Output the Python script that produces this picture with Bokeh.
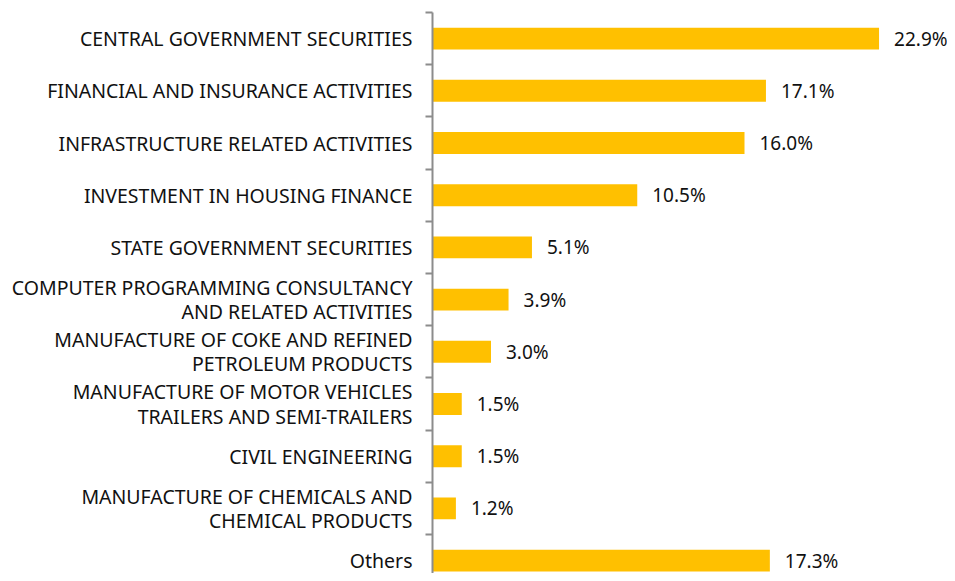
from bokeh.plotting import figure
from bokeh.models import Range1d, FixedTicker, ColumnDataSource
from bokeh.embed import file_html
from bokeh.resources import INLINE
from bokeh.core.properties import value

categories = [
    "CENTRAL GOVERNMENT SECURITIES",
    "FINANCIAL AND INSURANCE ACTIVITIES",
    "INFRASTRUCTURE RELATED ACTIVITIES",
    "INVESTMENT IN HOUSING FINANCE",
    "STATE GOVERNMENT SECURITIES",
    "COMPUTER PROGRAMMING CONSULTANCY\nAND RELATED ACTIVITIES",
    "MANUFACTURE OF COKE AND REFINED\nPETROLEUM PRODUCTS",
    "MANUFACTURE OF MOTOR VEHICLES\nTRAILERS AND SEMI-TRAILERS",
    "CIVIL ENGINEERING",
    "MANUFACTURE OF CHEMICALS AND\nCHEMICAL PRODUCTS",
    "Others",
]
values = [22.9, 17.1, 16.0, 10.5, 5.1, 3.9, 3.0, 1.5, 1.5, 1.2, 17.3]
value_labels = ["22.9%", "17.1%", "16.0%", "10.5%", "5.1%", "3.9%", "3.0%", "1.5%", "1.5%", "1.2%", "17.3%"]

FONT = "Noto Sans"
W, H = 947, 573
LEFT, TOP = 432, 12
PX_PER_PCT = 19.5
ROW = 52.2

pos = list(range(len(categories)))
source = ColumnDataSource(dict(y=pos, v=values, lab=value_labels))

p = figure(
    width=W, height=H, output_backend="svg", toolbar_location=None,
    x_axis_location=None,
    x_range=Range1d(0, (W - LEFT) / PX_PER_PCT),
    y_range=Range1d(-0.5 + (H - TOP) / ROW, -0.5),
    min_border_left=LEFT, min_border_top=TOP, min_border_bottom=0, min_border_right=0,
)
p.outline_line_color = None
p.grid.visible = False

p.hbar(y="y", right="v", left=0, height=0.42, source=source,
       fill_color="#FFC000", line_color=None)

p.text(x="v", y="y", text="lab", source=source, x_offset=15,
       text_baseline="middle", text_align="left",
       text_font=value(FONT), text_font_size="19px", text_color="#111111")

ax = p.yaxis[0]
boundaries = [i - 0.5 for i in range(len(categories) + 1)]
ax.ticker = FixedTicker(ticks=pos, minor_ticks=boundaries)
ax.major_label_overrides = {i: c for i, c in enumerate(categories)}
ax.major_tick_out = 0
ax.major_tick_in = 0
ax.minor_tick_out = 7
ax.minor_tick_in = 0
ax.minor_tick_line_color = "#8c8c8c"
ax.minor_tick_line_width = 2
ax.axis_line_color = "#8c8c8c"
ax.axis_line_width = 2
ax.major_label_standoff = 13
ax.major_label_text_font = FONT
ax.major_label_text_font_size = "19.5px"
ax.major_label_text_line_height = 0.9
ax.major_label_text_align = "center"
ax.major_label_text_color = "#111111"

open("out.html", "w").write(file_html(p, INLINE))
